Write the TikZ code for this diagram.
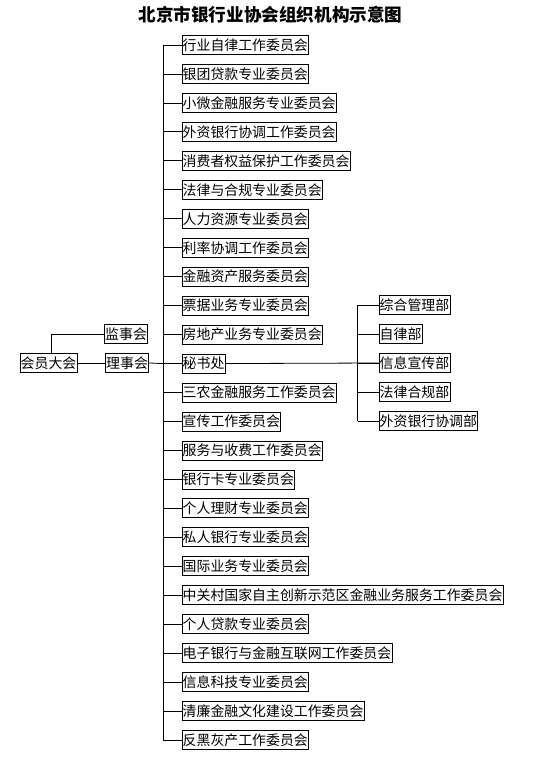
\documentclass[tikz,border=0pt]{standalone}
\usepackage{fontspec}
\setmainfont{Noto Sans CJK SC}
\usetikzlibrary{positioning, calc}

\begin{document}
\begin{tikzpicture}[
      x=1pt, y=-1pt,
      line width=0.8pt,
      orgbox/.style = {
          draw,
          anchor=west,
          inner xsep=0.8pt,
          inner ysep=0pt,
          minimum height=19pt,
          font=\fontsize{13.9}{14}\selectfont,
        },
    ]
    \useasboundingbox (0,0) rectangle (545,759);

    \node[font=\fontsize{17.6}{18}\selectfont\bfseries] (title) at (270.5,15) {北京市银行业协会组织机构示意图};

    % left part
    \node[orgbox, anchor=center] (hy) at (48.5,363) {会员大会};
    \node[orgbox] (js) at (104,334) {监事会};
    \node[orgbox] (ls) at (105,363) {理事会};
    \draw (hy.east) -- (ls.west);
    \draw ([xshift=3pt]hy.north) |- (js.west);

    % committees on the trunk
    \foreach \name [count=\i] in {
        行业自律工作委员会, 银团贷款专业委员会, 小微金融服务专业委员会,
        外资银行协调工作委员会, 消费者权益保护工作委员会, 法律与合规专业委员会,
        人力资源专业委员会, 利率协调工作委员会, 金融资产服务委员会,
        票据业务专业委员会, 房地产业务专业委员会, 秘书处,
        三农金融服务工作委员会, 宣传工作委员会, 服务与收费工作委员会,
        银行卡专业委员会, 个人理财专业委员会, 私人银行专业委员会,
        国际业务专业委员会, 中关村国家自主创新示范区金融业务服务工作委员会,
        个人贷款专业委员会, 电子银行与金融互联网工作委员会, 信息科技专业委员会,
        清廉金融文化建设工作委员会, 反黑灰产工作委员会} {
      \coordinate (t\i) at (163,{45+28.96*(\i-1)});
      \node[orgbox] (c\i) at (181.5,{45+28.96*(\i-1)}) {\name};
      \draw (t\i) -- (c\i.west);
    }
    \draw (t1) -- (t25);
    \draw (ls.east) -- (t12);

    % departments of the secretariat
    \foreach \name [count=\j] in {综合管理部, 自律部, 信息宣传部, 法律合规部, 外资银行协调部} {
      \coordinate (s\j) at (357.7,{305+29*(\j-1)});
      \node[orgbox] (d\j) at (378.5,{305+29*(\j-1)}) {\name};
      \draw (s\j) -- (d\j.west);
    }
    \draw (s1) -- (s5);
    \draw (c12.east) -- (d3.west);

  \end{tikzpicture}
\end{document}
